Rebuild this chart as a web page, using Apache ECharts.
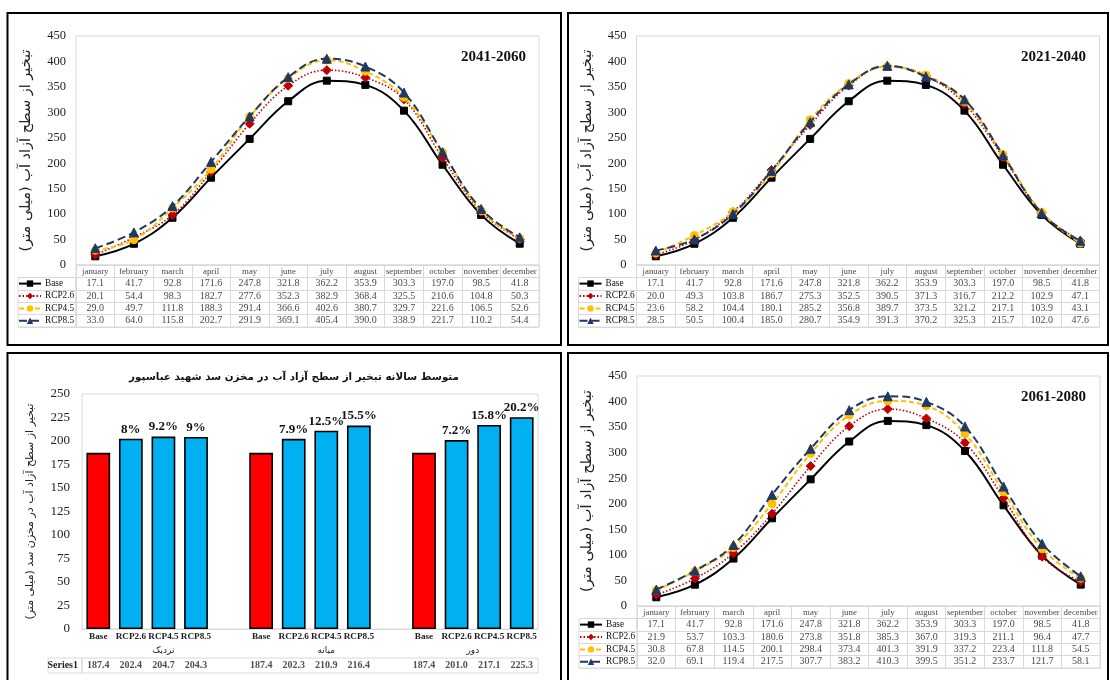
<!DOCTYPE html>
<html><head><meta charset="utf-8">
<script src="https://cdn.jsdelivr.net/npm/echarts@6/dist/echarts.min.js"></script>
<style>html,body{margin:0;padding:0;background:#fff}#c{width:1110px;height:680px}</style>
</head><body><div id="c"></div>
<script>
// ---------- data ----------
const months = ['january','february','march','april','may','june','july','august','september','october','november','december'];
const rowNames = ['Base','RCP2.6','RCP4.5','RCP8.5'];
const base = [17.1,41.7,92.8,171.6,247.8,321.8,362.2,353.9,303.3,197.0,98.5,41.8];

const rcp26_2041 = [20.1,54.4,98.3,182.7,277.6,352.3,382.9,368.4,325.5,210.6,104.8,50.3];
const rcp45_2041 = [29.0,49.7,111.8,188.3,291.4,366.6,402.6,380.7,329.7,221.6,106.5,52.6];
const rcp85_2041 = [33.0,64.0,115.8,202.7,291.9,369.1,405.4,390.0,338.9,221.7,110.2,54.4];

const rcp26_2021 = [20.0,49.3,103.8,186.7,275.3,352.5,390.5,371.3,316.7,212.2,102.9,47.1];
const rcp45_2021 = [23.6,58.2,104.4,180.1,285.2,356.8,389.7,373.5,321.2,217.1,103.9,43.1];
const rcp85_2021 = [28.5,50.5,100.4,185.0,280.7,354.9,391.3,370.2,325.3,215.7,102.0,47.6];

const rcp26_2061 = [21.9,53.7,103.3,180.6,273.8,351.8,385.3,367.0,319.3,211.1,96.4,47.7];
const rcp45_2061 = [30.8,67.8,114.5,200.1,298.4,373.4,401.3,391.9,337.2,223.4,111.8,54.5];
const rcp85_2061 = [32.0,69.1,119.4,217.5,307.7,383.2,410.3,399.5,351.2,233.7,121.7,58.1];

const periodTitles = ['2041-2060','2021-2040','2061-2080'];
const lineYName = 'تبخیر از سطح آزاد آب (میلی متر)';
const lineAxisMax = 450, lineAxisStep = 50;

const barTitle = 'متوسط سالانه تبخیر از سطح آزاد آب در مخزن سد شهید عباسپور';
const barYName = 'تبخیر از سطح آزاد آب در مخزن سد (میلی متر)';
const barScenarios = ['Base','RCP2.6','RCP4.5','RCP8.5'];
const barGroups = ['نزدیک','میانه','دور'];
const annualNear = [187.4,202.4,204.7,204.3];
const annualMid  = [187.4,202.3,210.9,216.4];
const annualFar  = [187.4,201.0,217.1,225.3];
const changeNear = ['','8%','9.2%','9%'];
const changeMid  = ['','7.9%','12.5%','15.5%'];
const changeFar  = ['','7.2%','15.8%','20.2%'];
const tableRowName = 'Series1';
const barAxisMax = 250, barAxisStep = 25;

// ---------- styles ----------
const SERIF = '"Liberation Serif","Times New Roman",serif';
const ARAB = '"DejaVu Sans",sans-serif';
const GRID_LINE = '#d9d9d9';
const styleOf = {
  'Base':   {color:'#000000', type:'solid', width:2,   symbol:'rect',     size:7},
  'RCP2.6': {color:'#C00000', type:[1.5,2], width:1.6, symbol:'diamond',  size:9},
  'RCP4.5': {color:'#FFC000', type:[5,3],  width:2,   symbol:'circle',   size:8},
  'RCP8.5': {color:'#1F3864', type:[8,4],  width:2,   symbol:'triangle', size:9}
};

const grid = [], xAxis = [], yAxis = [], series = [], legend = [], title = [];
const hidden = {axisLine:{show:false}, axisTick:{show:false}, axisLabel:{show:false}};

function linePanel(p, seriesArrays, ttl) {
  const W = 463, TH = 62, RH = TH / 5;
  const gPlot = grid.length;
  grid.push({left:p.left, top:p.top, width:W, height:p.h, show:true, borderColor:GRID_LINE, borderWidth:1});
  const gTab = grid.length;
  grid.push({left:p.left, top:p.top + p.h, width:W, height:TH, show:true, borderColor:GRID_LINE, borderWidth:1});
  const gLeg = grid.length;
  grid.push({left:p.left - 58, top:p.top + p.h + RH, width:58, height:TH - RH, show:true, borderColor:GRID_LINE, borderWidth:1});

  const xPlot = xAxis.length;
  xAxis.push(Object.assign({gridIndex:gPlot, type:'category', data:months, boundaryGap:true}, hidden));
  const yPlot = yAxis.length;
  yAxis.push({gridIndex:gPlot, type:'value', min:0, max:lineAxisMax, interval:lineAxisStep,
    axisLine:{show:false}, axisTick:{show:false}, splitLine:{show:false},
    axisLabel:{fontFamily:SERIF, fontSize:12.5, color:'#222', margin:10},
    name:lineYName, nameLocation:'middle', nameRotate:90, nameGap:42,
    nameTextStyle:{fontFamily:ARAB, fontSize:14.5, color:'#222'}});

  const xTab = xAxis.length;
  xAxis.push(Object.assign({gridIndex:gTab, type:'category', data:months, boundaryGap:true,
    splitLine:{show:true, interval:0, lineStyle:{color:GRID_LINE, width:1}}}, hidden));
  const yTab = yAxis.length;
  yAxis.push(Object.assign({gridIndex:gTab, type:'category', data:['hdr'].concat(rowNames), inverse:true,
    splitLine:{show:true, interval:0, lineStyle:{color:GRID_LINE, width:1}}}, hidden));

  xAxis.push(Object.assign({gridIndex:gLeg, type:'category', data:['c']}, hidden));
  yAxis.push(Object.assign({gridIndex:gLeg, type:'category', data:rowNames, inverse:true,
    splitLine:{show:true, interval:0, lineStyle:{color:GRID_LINE, width:1}}}, hidden));

  rowNames.forEach((nm, r) => {
    const st = styleOf[nm];
    series.push({name:nm, type:'line', xAxisIndex:xPlot, yAxisIndex:yPlot, data:seriesArrays[r],
      smooth:0.4, symbol:st.symbol, symbolSize:st.size, z:2 + r,
      lineStyle:{color:st.color, type:st.type, width:st.width},
      itemStyle:{color:st.color, borderColor:st.color}});
  });

  const cells = months.map((m, i) => ({value:[i, 0], name:m, label:{fontSize:8.8}}));
  seriesArrays.forEach((arr, r) => arr.forEach((v, i) => cells.push({value:[i, r + 1], name:v.toFixed(1)})));
  series.push({type:'scatter', name:'cells', xAxisIndex:xTab, yAxisIndex:yTab, silent:true,
    symbolSize:1, itemStyle:{color:'rgba(0,0,0,0)'}, data:cells,
    label:{show:true, position:'inside', formatter:'{b}', fontFamily:SERIF, fontSize:10, color:'#111'}});

  legend.push({orient:'vertical', left:p.left - 58, top:p.top + p.h + RH, padding:0, itemGap:0,
    itemWidth:22, itemHeight:8, selectedMode:false, data:rowNames,
    textStyle:{fontFamily:SERIF, fontSize:9.3, color:'#111', lineHeight:RH, padding:[0,0,0,-1]}});

  title.push({text:ttl, right:p.titleRight, top:p.titleTop, padding:0,
    textStyle:{fontFamily:SERIF, fontSize:15, fontWeight:'bold', color:'#111'}});
}

linePanel({left:76, top:36, h:229, titleRight:584, titleTop:50}, [base, rcp26_2041, rcp45_2041, rcp85_2041], periodTitles[0]);
linePanel({left:636.5, top:36, h:229, titleRight:24, titleTop:50}, [base, rcp26_2021, rcp45_2021, rcp85_2021], periodTitles[1]);
linePanel({left:637, top:376, h:230, titleRight:24, titleTop:390}, [base, rcp26_2061, rcp45_2061, rcp85_2061], periodTitles[2]);

// ---------- bar panel ----------
const annual = [annualNear, annualMid, annualFar];
const changes = [changeNear, changeMid, changeFar];
const slotLabels = [], slotValues = [], slotChange = [];
barGroups.forEach((g, gi) => {
  barScenarios.forEach((s, si) => { slotLabels.push(s); slotValues.push(annual[gi][si]); slotChange.push(changes[gi][si]); });
  if (gi < barGroups.length - 1) { slotLabels.push(''); slotValues.push('-'); slotChange.push(''); }
});
// group label axis: boundary positions (2 per slot)
const groupAxis = [];
for (let i = 0; i <= slotLabels.length * 2; i++) groupAxis.push('');
groupAxis[5] = barGroups[0]; groupAxis[15] = barGroups[1]; groupAxis[24] = barGroups[2];

const gBar = grid.length;
grid.push({left:82, top:394, width:456, height:235, show:true, borderColor:GRID_LINE, borderWidth:1});
const xBar = xAxis.length;
xAxis.push({gridIndex:gBar, type:'category', data:slotLabels, axisTick:{show:false},
  axisLine:{show:true, lineStyle:{color:GRID_LINE}},
  axisLabel:{interval:0, margin:3, fontFamily:SERIF, fontSize:9.2, fontWeight:'bold', color:'#222'}});
xAxis.push({gridIndex:gBar, type:'category', data:groupAxis, boundaryGap:false, position:'bottom',
  axisLine:{show:false}, axisTick:{show:false},
  axisLabel:{interval:0, margin:17, fontFamily:ARAB, fontSize:9, color:'#222'}});
const yBar = yAxis.length;
yAxis.push({gridIndex:gBar, type:'value', min:0, max:barAxisMax, interval:barAxisStep,
  axisLine:{show:false}, axisTick:{show:false}, splitLine:{show:false},
  axisLabel:{fontFamily:SERIF, fontSize:13, color:'#222', margin:12},
  name:barYName, nameLocation:'middle', nameRotate:90, nameGap:46,
  nameTextStyle:{fontFamily:ARAB, fontSize:11, color:'#222'}});
series.push({type:'bar', name:'annual', xAxisIndex:xBar, yAxisIndex:yBar, barCategoryGap:'27%',
  data:slotValues.map((v, i) => ({value:v, itemStyle:{color: slotLabels[i] === 'Base' ? '#FF0000' : '#00B0F0'}})),
  itemStyle:{borderColor:'#000', borderWidth:1.6},
  label:{show:true, position:'top', distance:3, formatter:p => slotChange[p.dataIndex],
    fontFamily:SERIF, fontSize:13, fontWeight:'bold', color:'#111'}});

const gBT = grid.length;
grid.push({left:82, top:658, width:456, height:15, show:true, borderColor:GRID_LINE, borderWidth:1});
const xBT = xAxis.length;
xAxis.push(Object.assign({gridIndex:gBT, type:'category', data:slotLabels}, hidden));
const yBT = yAxis.length;
yAxis.push({gridIndex:gBT, type:'category', data:[tableRowName], axisLine:{show:false}, axisTick:{show:false},
  axisLabel:{margin:4, fontFamily:SERIF, fontSize:10, fontWeight:'bold', color:'#222'}});
const gBL = grid.length;
grid.push({left:48, top:658, width:34, height:15, show:true, borderColor:GRID_LINE, borderWidth:1});
xAxis.push(Object.assign({gridIndex:gBL, type:'category', data:['c']}, hidden));
yAxis.push(Object.assign({gridIndex:gBL, type:'category', data:['c']}, hidden));
const barCells = [];
slotValues.forEach((v, i) => { if (v !== '-') barCells.push({value:[i, 0], name:v.toFixed(1)}); });
series.push({type:'scatter', name:'barcells', xAxisIndex:xBT, yAxisIndex:yBT, silent:true,
  symbolSize:1, itemStyle:{color:'rgba(0,0,0,0)'}, data:barCells,
  label:{show:true, position:'inside', formatter:'{b}', fontFamily:SERIF, fontSize:10, fontWeight:'bold', color:'#222'}});

title.push({text:barTitle, left:294, textAlign:'center', top:372, padding:0,
  textStyle:{fontFamily:ARAB, fontSize:10.3, fontWeight:'bold', color:'#111'}});

// ---------- panel frames ----------
const frame = (x, y, w, h) => ({type:'rect', silent:true, z:100, shape:{x, y, width:w, height:h},
  style:{fill:'none', stroke:'#000', lineWidth:2}});

const chart = echarts.init(document.getElementById('c'), null, {renderer:'canvas'});
chart.setOption({
  animation:false, backgroundColor:'#fff',
  title, legend, grid, xAxis, yAxis, series,
  graphic:[frame(7.5, 13, 553.5, 332), frame(568, 13, 540, 332), frame(7.5, 353, 553.5, 340), frame(568, 353, 540, 340)]
});
</script></body></html>
